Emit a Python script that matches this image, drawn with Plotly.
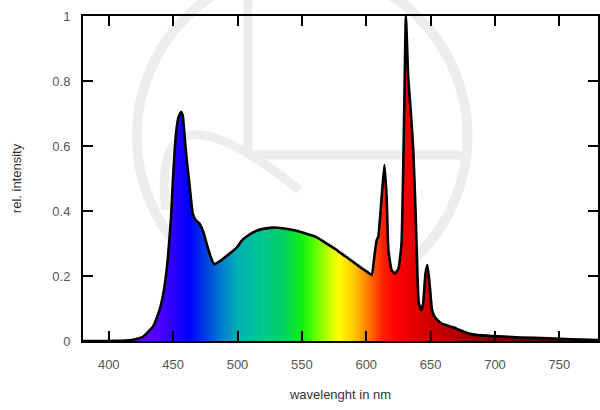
import plotly.graph_objects as go

# wavelength (nm) and relative intensity
wavelength = [380, 400, 410, 418, 422, 426.5, 430, 434.3, 437, 439.4, 441.5, 443.3,
              445.8, 448.4, 449.7, 452.3, 454.3, 456.2, 457.6, 458.7, 460.5, 462.6,
              465.2, 467.5, 470.3, 473.5, 476.7, 479.5, 481.9, 486, 490.9, 495,
              500, 503.8, 509, 514.1, 520, 527, 535, 545, 553, 560.5, 566, 570.8,
              576, 581, 586.2, 591, 596.5, 601, 604.3, 606.3, 608.1, 609.4, 612,
              614.1, 615.8, 617.2, 619.7, 622.3, 625, 627.4, 629.5, 630.8, 632.6,
              634.7, 636.5, 638.3, 639.8, 640.8, 642.9, 644.2, 646, 647.5, 649.4,
              651.1, 653.5, 658.3, 664, 668.7, 671, 675, 679, 686.7, 700, 720,
              740.8, 760, 780]
intensity = [0.0, 0.0, 0.001, 0.003, 0.007, 0.013, 0.026, 0.044, 0.068, 0.095, 0.128, 0.167,
             0.25, 0.38, 0.485, 0.64, 0.69, 0.705, 0.69, 0.64, 0.56, 0.485,
             0.393, 0.372, 0.362, 0.335, 0.29, 0.255, 0.236, 0.245, 0.26, 0.272,
             0.29, 0.311, 0.327, 0.338, 0.345, 0.349, 0.347, 0.34, 0.331, 0.321, 0.308, 0.296,
             0.283, 0.268, 0.254, 0.24, 0.224, 0.212, 0.203, 0.26, 0.31, 0.322, 0.444,
             0.541, 0.444, 0.28, 0.218, 0.208, 0.222, 0.3, 0.71, 1.0, 0.81,
             0.7, 0.59, 0.4, 0.2, 0.116, 0.095, 0.116, 0.208, 0.234, 0.167,
             0.095, 0.072, 0.054, 0.046, 0.041, 0.036, 0.03, 0.024, 0.018, 0.015, 0.011,
             0.008, 0.005, 0.003]

x_ticks = [400, 450, 500, 550, 600, 650, 700, 750]
y_ticks = [0, 0.2, 0.4, 0.6, 0.8, 1]

spectrum_scale = [
    [0.000, "#4b0090"], [0.1125, "#6a00ff"], [0.150, "#4a00ff"], [0.1875, "#1a00ff"],
    [0.205, "#0000ff"], [0.2375, "#0040e0"], [0.270, "#0080d0"], [0.300, "#00b0b0"],
    [0.3475, "#00c890"], [0.3875, "#00d060"], [0.425, "#10f010"], [0.450, "#60ff00"],
    [0.470, "#b0ff00"], [0.495, "#ffff00"], [0.5275, "#ffc000"], [0.555, "#ff7000"],
    [0.580, "#ff2000"], [0.605, "#ff0000"], [0.645, "#e00000"], [0.695, "#c00000"],
    [0.7475, "#a00000"], [0.800, "#800000"], [0.900, "#600000"], [1.0, "#500000"],
]

fig = go.Figure()
fig.add_trace(go.Scatter(
    x=wavelength, y=intensity, mode="lines",
    line=dict(color="black", width=2.6, shape="spline", smoothing=0.4),
    fill="tozeroy",
    fillgradient=dict(type="horizontal", colorscale=spectrum_scale, start=380, stop=780),
    hoverinfo="skip", showlegend=False,
))

# watermark logo (decoration), pixel -> paper helpers
L, T, W, H = 83, 16, 517, 325
def px(xp):
    return (xp - L) / W
def py(yp):
    return (T + H - yp) / H

wm = "#ededed"
fig.add_shape(type="circle", xref="paper", yref="paper", layer="below",
              x0=px(137), x1=px(469), y0=py(303), y1=py(-31),
              line=dict(color=wm, width=10))
fig.add_shape(type="path", xref="paper", yref="paper", layer="below",
              path=f"M {px(248.5)} {py(0)} L {px(248.5)} {py(148)} Q {px(248.5)} {py(155)} {px(256)} {py(155)} L {px(468)} {py(155)}",
              line=dict(color=wm, width=9))
fig.add_shape(type="path", xref="paper", yref="paper", layer="below",
              path=f"M {px(166)} {py(210)} Q {px(150)} {py(70)} {px(300)} {py(190)}",
              line=dict(color=wm, width=9))

axis_common = dict(
    showline=True, linecolor="black", linewidth=2, mirror="ticks",
    ticks="inside", ticklen=10, tickwidth=1.5, tickcolor="black",
    showgrid=False, zeroline=False,
    tickfont=dict(family="Liberation Sans, Arial, sans-serif", size=13, color="#555555"),
)

fig.update_xaxes(range=[380, 780], tickvals=x_ticks, ticklabelstandoff=10,
                 title=dict(text="wavelenght in nm", standoff=19,
                            font=dict(family="Liberation Sans, Arial, sans-serif", size=13, color="#333333")),
                 **axis_common)
fig.update_yaxes(range=[0, 1], tickvals=y_ticks, ticklabelstandoff=8,
                 title=dict(text="rel. intensity", standoff=28,
                            font=dict(family="Liberation Sans, Arial, sans-serif", size=13, color="#333333")),
                 **axis_common)

fig.update_layout(
    width=600, height=410,
    margin=dict(l=L, r=0, t=T, b=69),
    plot_bgcolor="rgba(0,0,0,0)", paper_bgcolor="white",
)

fig.write_html("out.html", config={"displayModeBar": False},
               post_script="document.body.style.margin='0px';document.body.style.overflow='hidden';")
